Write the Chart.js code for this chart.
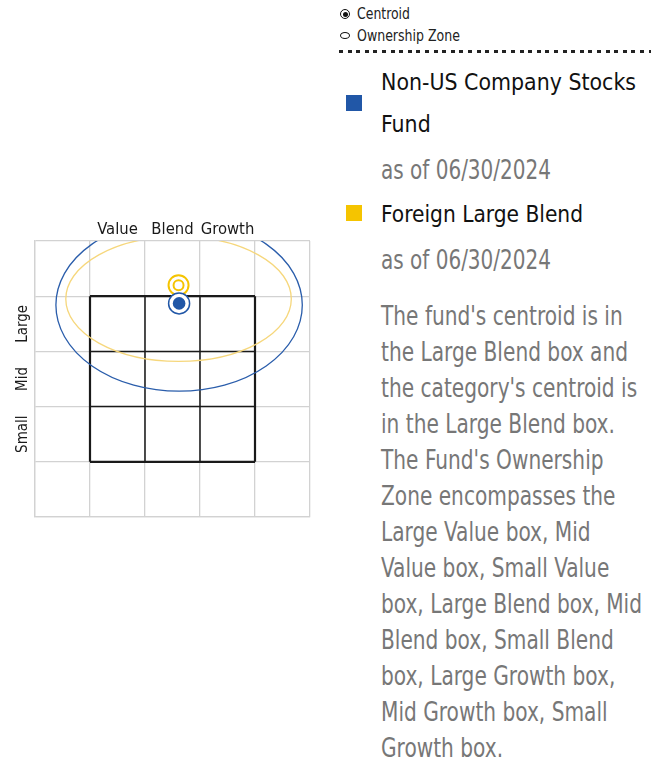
<!DOCTYPE html>
<html>
<head>
<meta charset="utf-8">
<script src="https://cdn.jsdelivr.net/npm/chart.js@4.4.1/dist/chart.umd.min.js"></script>
<style>
  body { margin: 0; width: 659px; height: 761px; background: #fff; position: relative; overflow: hidden;
         font-family: 'Liberation Sans Narrow', 'DejaVu Sans Condensed', sans-serif; }
  #chartBox { position: absolute; left: 0; top: 200px; width: 330px; height: 330px; }
  .abs { position: absolute; white-space: nowrap; transform-origin: 0 0; }
  .keyText { font-size: 15px; line-height: 20px; color: #222; left: 357px; }
  .icoCentroid { position: absolute; left: 340px; width: 8px; height: 8px; border: 1px solid #111; border-radius: 50%; background: #fff; }
  .icoCentroid::after { content: ''; position: absolute; left: 1.5px; top: 1.5px; width: 5px; height: 5px; border-radius: 50%; background: #111; }
  .icoZone { position: absolute; left: 340px; width: 8px; height: 5px; border: 1.3px solid #111; border-radius: 50%; }
  #dots { position: absolute; left: 339px; top: 50px; width: 312px; height: 3px;
          background: repeating-linear-gradient(90deg, #222 0 4px, transparent 4px 8.6px); }
  .swatch { position: absolute; left: 346px; width: 16px; height: 16px; }
  .title { left: 381px; font-size: 23px; line-height: 42px; color: #111; }
  .asof { left: 381px; font-size: 26px; line-height: 36px; color: #777; }
  #note { left: 381px; top: 298px; font-size: 26px; line-height: 36px; color: #777; }
</style>
</head>
<body>
<div id="chartBox"><canvas id="zoneChart"></canvas></div>

<div class="icoCentroid" style="top:9px"></div>
<div class="abs keyText" style="top:4px" data-w="53">Centroid</div>
<div class="icoZone" style="top:32px"></div>
<div class="abs keyText" style="top:26px" data-w="103">Ownership Zone</div>
<div id="dots"></div>

<div class="swatch" id="sw0" style="top:95px"></div>
<div class="abs title" id="name0" style="top:61px" data-w="255"></div>
<div class="abs asof" style="top:152px" data-w="170">as of 06/30/2024</div>
<div class="swatch" id="sw1" style="top:205px"></div>
<div class="abs title" id="name1" style="top:193px" data-w="202"></div>
<div class="abs asof" style="top:242px" data-w="170">as of 06/30/2024</div>

<div class="abs" id="note" data-w="261">The fund's centroid is in<br>the Large Blend box and<br>the category's centroid is<br>in the Large Blend box.<br>The Fund's Ownership<br>Zone encompasses the<br>Large Value box, Mid<br>Value box, Small Value<br>box, Large Blend box, Mid<br>Blend box, Small Blend<br>box, Large Growth box,<br>Mid Growth box, Small<br>Growth box.</div>

<script>
const colLabels = ['Value', 'Blend', 'Growth'];
const rowLabels = ['Small', 'Mid', 'Large'];
const labelPos = [1.5, 2.5, 3.5];
const boxEdges = [1, 2, 3, 4];

const seriesNames = ['Non-US Company Stocks<br>Fund', 'Foreign Large Blend'];
const seriesColors = ['#2157a7', '#f5c400'];
const zoneColors = ['#2a5dab', '#f6d77c'];

// centroid of each series (x: value -> growth, y: small -> large)
const centroidX = [2.62, 2.61];
const centroidY = [3.87, 4.20];

// ownership zone ellipses
const zoneX = [2.62, 2.61];
const zoneY = [3.84, 3.95];
const zoneRX = [2.24, 2.05];
const zoneRY = [1.56, 1.13];

seriesNames.forEach(function (n, i) {
  document.getElementById('name' + i).innerHTML = n;
  document.getElementById('sw' + i).style.background = seriesColors[i];
});

// squeeze the text to the narrow look of the original
document.querySelectorAll('[data-w]').forEach(function (el) {
  const w = el.getBoundingClientRect().width;
  el.style.transform = 'scaleX(' + (Number(el.dataset.w) / w) + ')';
});

const zonePlugin = {
  id: 'zones',
  beforeDatasetsDraw(chart) {
    const ctx = chart.ctx;
    const xs = chart.scales.x, ys = chart.scales.y;
    const a = chart.chartArea;
    ctx.save();
    ctx.beginPath();
    ctx.rect(a.left, a.top, a.right - a.left, a.bottom - a.top);
    ctx.clip();

    // style box 3x3
    const lo = boxEdges[0], hi = boxEdges[boxEdges.length - 1];
    ctx.strokeStyle = '#1a1a1a';
    boxEdges.forEach(function (v) {
      ctx.lineWidth = (v === lo || v === hi) ? 2.2 : 1.5;
      ctx.beginPath();
      ctx.moveTo(xs.getPixelForValue(v), ys.getPixelForValue(lo));
      ctx.lineTo(xs.getPixelForValue(v), ys.getPixelForValue(hi));
      ctx.moveTo(xs.getPixelForValue(lo), ys.getPixelForValue(v));
      ctx.lineTo(xs.getPixelForValue(hi), ys.getPixelForValue(v));
      ctx.stroke();
    });

    // ownership zones, category first
    for (let i = zoneX.length - 1; i >= 0; i--) {
      const cx = xs.getPixelForValue(zoneX[i]);
      const cy = ys.getPixelForValue(zoneY[i]);
      const rx = xs.getPixelForValue(zoneX[i] + zoneRX[i]) - cx;
      const ry = cy - ys.getPixelForValue(zoneY[i] + zoneRY[i]);
      ctx.beginPath();
      ctx.ellipse(cx, cy, rx, ry, 0, 0, Math.PI * 2);
      ctx.strokeStyle = zoneColors[i];
      ctx.lineWidth = 1.3;
      ctx.stroke();
    }
    ctx.restore();
  }
};

const pt = function (i) { return [{ x: centroidX[i], y: centroidY[i] }]; };
const fontFamily = "'Liberation Sans Narrow', 'DejaVu Sans Condensed', sans-serif";

new Chart(document.getElementById('zoneChart'), {
  type: 'scatter',
  data: {
    datasets: [
      { data: pt(0), pointRadius: 6.3, pointBackgroundColor: seriesColors[0], pointBorderWidth: 0 },
      { data: pt(0), pointRadius: 10.5, pointBackgroundColor: '#fff', pointBorderColor: seriesColors[0], pointBorderWidth: 1.5 },
      { data: pt(1), pointRadius: 5, pointBackgroundColor: '#fff', pointBorderColor: seriesColors[1], pointBorderWidth: 2 },
      { data: pt(1), pointRadius: 10, pointBackgroundColor: '#fff', pointBorderColor: seriesColors[1], pointBorderWidth: 2 }
    ]
  },
  options: {
    responsive: true,
    maintainAspectRatio: false,
    animation: false,
    events: [],
    layout: { padding: { right: 20, bottom: 13 } },
    plugins: { legend: { display: false }, tooltip: { enabled: false } },
    scales: {
      x: {
        min: 0, max: 5,
        ticks: { display: false, stepSize: 1 },
        grid: { color: '#d2d2d2', lineWidth: 1.3, drawTicks: false },
        border: { color: '#d2d2d2', width: 1.3 },
        afterFit: function (s) { s.height = 0; }
      },
      y: {
        min: 0, max: 5,
        ticks: { display: false, stepSize: 1 },
        grid: { color: '#d2d2d2', lineWidth: 1.3, drawTicks: false },
        border: { color: '#d2d2d2', width: 1.3 },
        afterFit: function (s) { s.width = 0; }
      },
      xTop: {
        position: 'top', min: 0, max: 5,
        afterBuildTicks: function (s) { s.ticks = labelPos.map(function (v) { return { value: v }; }); },
        ticks: {
          autoSkip: false, maxRotation: 0, padding: 1, color: '#1a1a1a', font: { family: fontFamily, size: 16.5 },
          callback: function (v, i) { return colLabels[i]; }
        },
        grid: { display: false, drawTicks: false },
        border: { display: false },
        afterFit: function (s) { s.height = 41; }
      },
      yLeft: {
        position: 'left', min: 0, max: 5,
        afterBuildTicks: function (s) { s.ticks = labelPos.map(function (v) { return { value: v }; }); },
        ticks: {
          autoSkip: false, minRotation: 90, maxRotation: 90, crossAlign: 'center', padding: -7, color: '#1a1a1a',
          font: { family: fontFamily, size: 15 },
          callback: function (v, i) { return rowLabels[i]; }
        },
        grid: { display: false, drawTicks: false },
        border: { display: false },
        afterFit: function (s) { s.width = 35; }
      }
    }
  },
  plugins: [zonePlugin]
});
</script>
</body>
</html>
